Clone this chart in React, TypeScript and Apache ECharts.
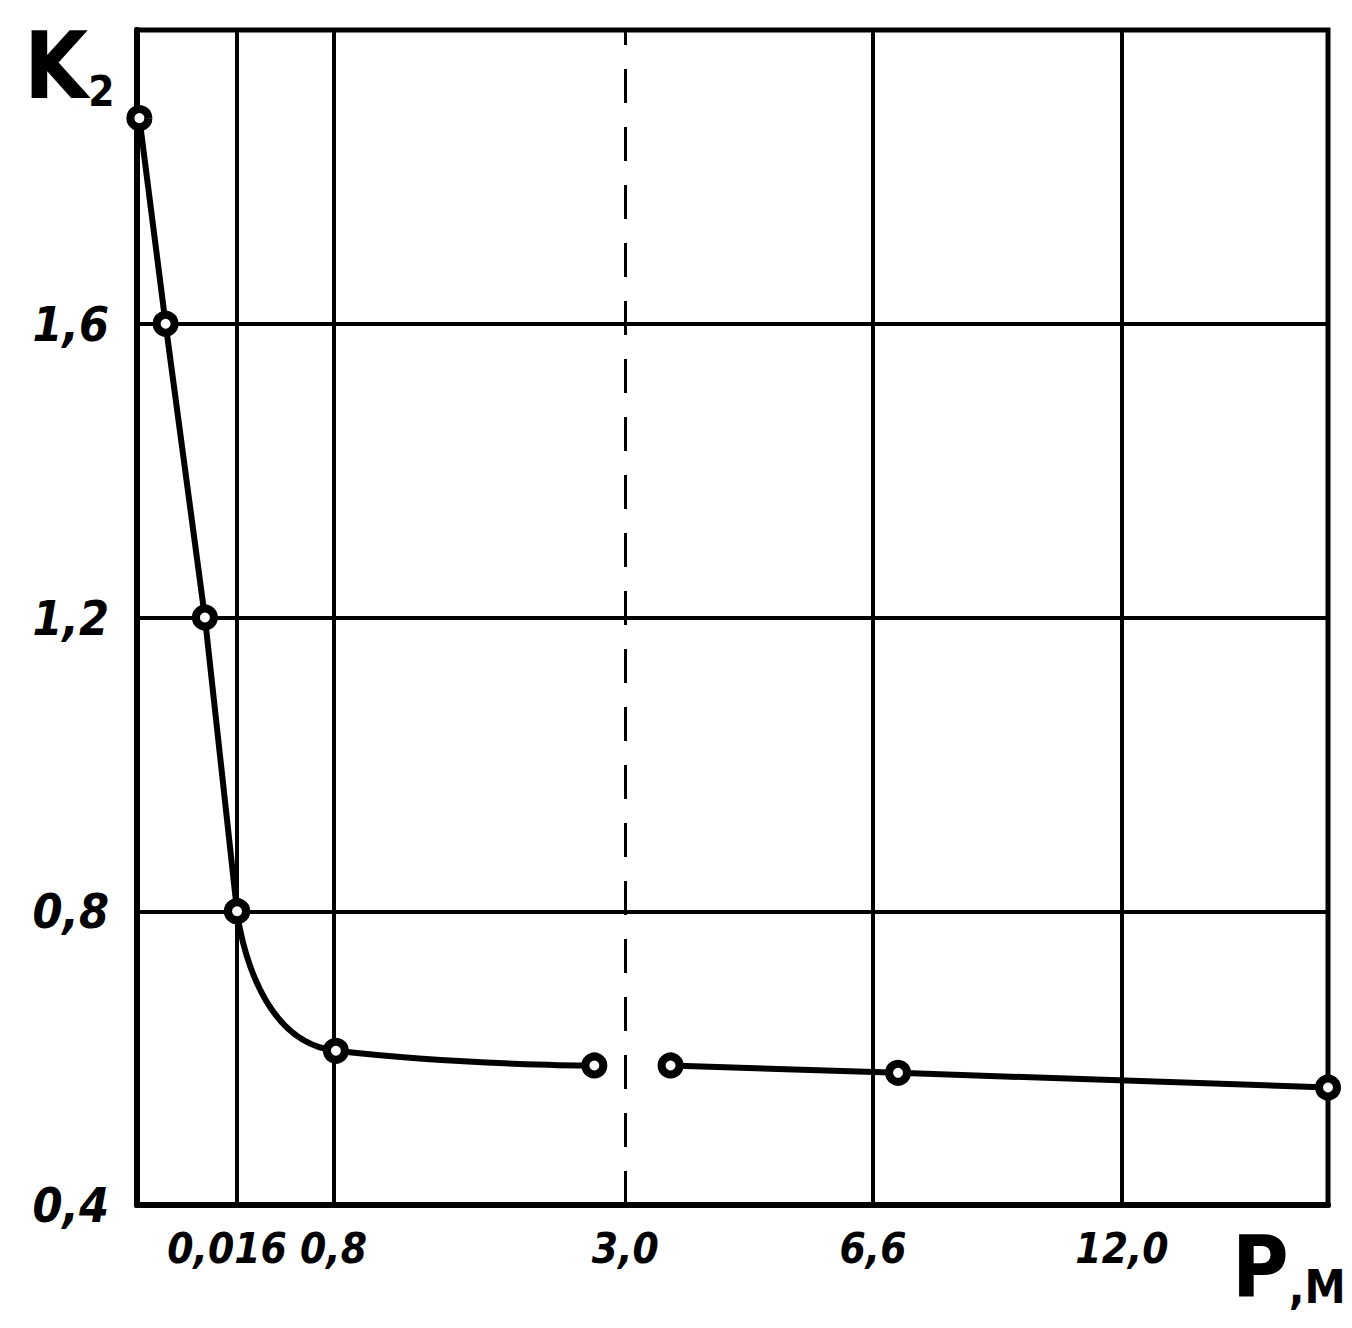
import React, { useEffect, useRef } from "react";
import * as echarts from "echarts";

// x axis is the hand-drawn (non-uniform) position scale of the original: 0..100 across the frame
const xTickValues = [8.4, 16.5, 41.0, 61.8, 82.7];
const xTickLabels = ["0,016", "0,8", "3,0", "6,6", "12,0"];
const dashedTickValue = 41.0;

const yTickValues = [0.4, 0.8, 1.2, 1.6];
const yTickLabels = ["0,4", "0,8", "1,2", "1,6"];

// steep part of the curve
const steepX = [0.2, 2.4, 5.7, 8.4];
const steepY = [1.88, 1.6, 1.2, 0.8];
// bend after 0,016
const bendX = [8.4, 16.7, 38.4];
const bendY = [0.8, 0.61, 0.59];
// flat part after the dashed line
const flatX = [44.8, 63.9, 100];
const flatY = [0.59, 0.58, 0.56];

const FONT = "'DejaVu Sans Condensed', 'DejaVu Sans', sans-serif";

export default function App() {
  const ref = useRef<HTMLDivElement>(null);
  useEffect(() => {
    document.body.style.margin = "0";
    const chart = echarts.init(ref.current!, null, { renderer: "svg" });
    const zip = (xs: number[], ys: number[]) => xs.map((x, i) => [x, ys[i]]);
    const markerStyle = {
      symbol: "circle",
      symbolSize: 18,
      itemStyle: { color: "#fff", borderColor: "#000", borderWidth: 8 },
    };
    const labelFont = {
      color: "#000",
      fontFamily: FONT,
      fontWeight: "bold",
      fontStyle: "italic",
      fontSize: 42,
    };
    chart.setOption({
      animation: false,
      backgroundColor: "#fff",
      grid: {
        left: 137,
        right: 24,
        top: 30,
        bottom: 123,
        show: true,
        borderColor: "#000",
        borderWidth: 5,
        backgroundColor: "transparent",
      },
      xAxis: {
        type: "value",
        min: 0,
        max: 100,
        axisLine: { show: true, lineStyle: { color: "#000", width: 6 } },
        axisTick: { show: false },
        splitLine: { show: false },
        axisLabel: {
          customValues: xTickValues,
          hideOverlap: false,
          showMinLabel: true,
          showMaxLabel: true,
          formatter: (v: number) => {
            const i = xTickValues.findIndex((t) => Math.abs(t - v) < 1e-6);
            if (i < 0) return "";
            return i === 0 ? "{l|" + xTickLabels[i] + "}" : xTickLabels[i];
          },
          rich: { l: { ...labelFont, padding: [0, 20, 0, 0] } },
          ...labelFont,
          margin: 22,
        },
      },
      yAxis: {
        type: "value",
        min: 0.4,
        max: 2.0,
        interval: 0.4,
        axisLine: { show: true, lineStyle: { color: "#000", width: 6 } },
        axisTick: { show: false },
        splitLine: { show: true, lineStyle: { color: "#000", width: 4 } },
        axisLabel: {
          formatter: (v: number) => {
            const i = yTickValues.findIndex((t) => Math.abs(t - v) < 1e-6);
            return i >= 0 ? yTickLabels[i] : "";
          },
          ...labelFont,
          fontSize: 48,
          margin: 28,
        },
      },
      graphic: [
        {
          type: "text",
          left: 24,
          top: 20,
          style: {
            text: "{k|K}{s|2}",
            rich: {
              k: { fontFamily: FONT, fontWeight: "bold", fontSize: 92, fill: "#000" },
              s: { fontFamily: FONT, fontWeight: "bold", fontSize: 42, fill: "#000", verticalAlign: "bottom" },
            },
          },
        },
        {
          type: "text",
          left: 1232,
          top: 1224,
          style: {
            text: "{p|P}{m|,M}",
            rich: {
              p: { fontFamily: FONT, fontWeight: "bold", fontSize: 86, fill: "#000" },
              m: { fontFamily: FONT, fontWeight: "bold", fontSize: 46, fill: "#000", verticalAlign: "bottom" },
            },
          },
        },
      ],
      series: [
        {
          type: "line",
          data: zip(steepX, steepY),
          clip: false,
          lineStyle: { color: "#000", width: 6 },
          ...markerStyle,
          z: 5,
          markLine: {
            silent: true,
            symbol: ["none", "none"],
            label: { show: false },
            z: 1,
            data: xTickValues.map((v) => ({
              xAxis: v,
              lineStyle:
                v === dashedTickValue
                  ? { color: "#000", width: 3, type: [34, 24] }
                  : { color: "#000", width: 4, type: "solid" },
            })),
          },
        },
        {
          type: "line",
          data: zip(bendX, bendY),
          smooth: 0.6,
          clip: false,
          lineStyle: { color: "#000", width: 6 },
          ...markerStyle,
          z: 5,
        },
        {
          type: "line",
          data: zip(flatX, flatY),
          clip: false,
          lineStyle: { color: "#000", width: 6 },
          ...markerStyle,
          z: 5,
        },
      ],
    });
    return () => chart.dispose();
  }, []);
  return <div ref={ref} style={{ width: 1352, height: 1328 }} />;
}
